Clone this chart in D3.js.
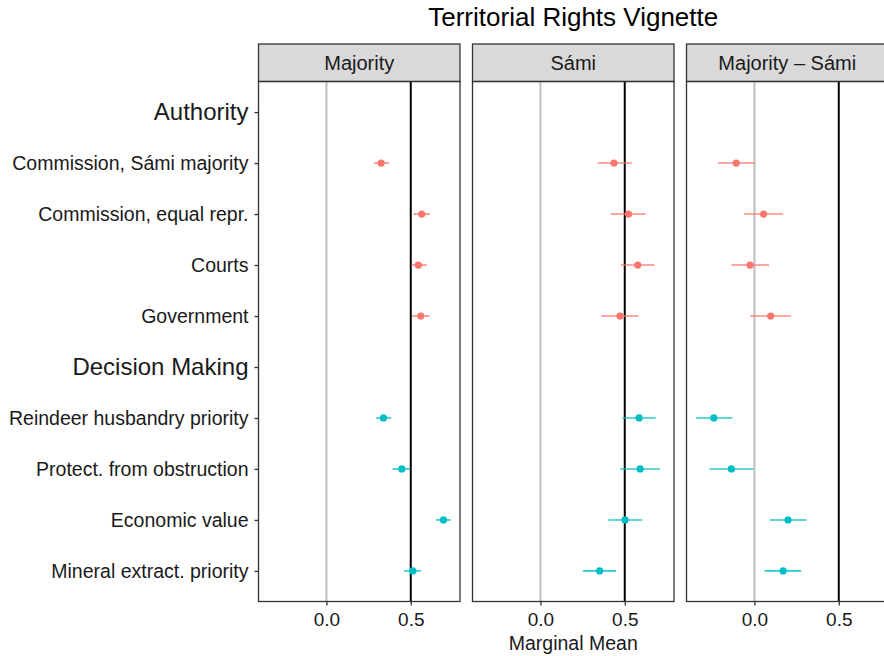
<!DOCTYPE html>
<html>
<head>
<meta charset="utf-8">
<script src="https://cdn.jsdelivr.net/npm/d3@7"></script>
<style>
  body { margin: 0; background: #fff; }
  svg { font-family: "Liberation Sans", Arial, Helvetica, sans-serif; }
</style>
</head>
<body>
<svg id="chart" width="884" height="656"></svg>
<script>
// rows from top to bottom; headers are the attribute names
const rows = [
  "Authority",
  "Commission, Sámi majority",
  "Commission, equal repr.",
  "Courts",
  "Government",
  "Decision Making",
  "Reindeer husbandry priority",
  "Protect. from obstruction",
  "Economic value",
  "Mineral extract. priority"
];
const headers = ["Authority", "Decision Making"];
const levels = rows.filter(r => !headers.includes(r));
const levelGroup = ["Authority", "Authority", "Authority", "Authority",
  "Decision Making", "Decision Making", "Decision Making", "Decision Making"];

const panels = ["Majority", "Sámi", "Majority – Sámi"];
const refLines = [0.5, 0.5, 0.5];
const xTicks = [0, 0.5];

// estimates and 95% intervals, in the order of levels
const majorityEst = [0.324, 0.565, 0.545, 0.559, 0.338, 0.447, 0.694, 0.512];
const majorityLo  = [0.281, 0.516, 0.504, 0.508, 0.295, 0.391, 0.650, 0.461];
const majorityHi  = [0.372, 0.613, 0.595, 0.611, 0.384, 0.496, 0.737, 0.561];

const samiEst = [0.436, 0.522, 0.577, 0.472, 0.585, 0.591, 0.502, 0.351];
const samiLo  = [0.339, 0.417, 0.478, 0.361, 0.486, 0.474, 0.403, 0.252];
const samiHi  = [0.540, 0.623, 0.677, 0.581, 0.683, 0.708, 0.603, 0.448];

const diffEst = [-0.108, 0.054, -0.026, 0.096, -0.241, -0.137, 0.199, 0.170];
const diffLo  = [-0.217, -0.062, -0.137, -0.026, -0.346, -0.266, 0.092, 0.060];
const diffHi  = [0.002, 0.170, 0.086, 0.217, -0.131, -0.006, 0.309, 0.277];

const panelEst = [majorityEst, samiEst, diffEst];
const panelLo = [majorityLo, samiLo, diffLo];
const panelHi = [majorityHi, samiHi, diffHi];

const colors = d3.scaleOrdinal().domain(headers).range(["#F8766D", "#00BFC4"]);

const svg = d3.select("#chart");
const panelLeft = 258.5, panelW = 201.5, panelGap = 12.5;
const stripTop = 44, stripH = 37.5;
const plotTop = stripTop + stripH, plotBottom = 601.5;
const font = "'Liberation Sans', Arial, sans-serif";

const x = d3.scaleLinear().domain([-0.403, 0.792]).range([0, panelW]);
const y = d3.scalePoint().domain(rows).range([plotTop, plotBottom]).padding(0.6);

// title
svg.append("text")
  .attr("x", panelLeft + (3 * panelW + 2 * panelGap) / 2)
  .attr("y", 26)
  .attr("text-anchor", "middle")
  .style("font-size", "26px")
  .text("Territorial Rights Vignette");

panels.forEach(function(name, p) {
  const g = svg.append("g")
    .attr("transform", `translate(${panelLeft + p * (panelW + panelGap)},0)`);

  // strip
  g.append("rect")
    .attr("x", 0).attr("y", stripTop)
    .attr("width", panelW).attr("height", stripH)
    .attr("fill", "#D9D9D9")
    .attr("stroke", "#333").attr("stroke-width", 1.3);
  g.append("text")
    .attr("x", panelW / 2).attr("y", stripTop + stripH / 2 + 7)
    .attr("text-anchor", "middle")
    .style("font-size", "20px")
    .attr("fill", "#1a1a1a")
    .text(name);

  // reference lines
  g.append("line")
    .attr("x1", x(0)).attr("x2", x(0))
    .attr("y1", plotTop).attr("y2", plotBottom)
    .attr("stroke", "#BEBEBE").attr("stroke-width", 2);
  g.append("line")
    .attr("x1", x(refLines[p])).attr("x2", x(refLines[p]))
    .attr("y1", plotTop).attr("y2", plotBottom)
    .attr("stroke", "#000").attr("stroke-width", 2);

  const data = levels.map((lv, i) => ({
    level: lv, group: levelGroup[i],
    est: panelEst[p][i], lo: panelLo[p][i], hi: panelHi[p][i]
  }));

  g.selectAll("line.ci")
    .data(data)
    .enter()
    .append("line")
    .attr("class", "ci")
    .attr("x1", d => x(d.lo)).attr("x2", d => x(d.hi))
    .attr("y1", d => y(d.level)).attr("y2", d => y(d.level))
    .attr("stroke", d => colors(d.group))
    .attr("stroke-opacity", 0.85)
    .attr("stroke-width", 1.6);

  g.selectAll("circle")
    .data(data)
    .enter()
    .append("circle")
    .attr("cx", d => x(d.est)).attr("cy", d => y(d.level))
    .attr("r", 3.6)
    .attr("fill", d => colors(d.group));

  // panel border
  g.append("rect")
    .attr("x", 0).attr("y", plotTop)
    .attr("width", panelW).attr("height", plotBottom - plotTop)
    .attr("fill", "none")
    .attr("stroke", "#333").attr("stroke-width", 1.3);

  // x axis
  const xAxis = g.append("g")
    .attr("transform", `translate(0,${plotBottom})`)
    .call(d3.axisBottom(x).tickValues(xTicks).tickFormat(d3.format(".1f")).tickSize(4).tickPadding(7));
  xAxis.select(".domain").remove();
  xAxis.selectAll(".tick line").attr("stroke", "#333").attr("stroke-width", 1.3);
  xAxis.selectAll("text").style("font-size", "19px").attr("fill", "#1a1a1a")
    .style("font-family", font);
});

// y axis on the first panel
const yAxis = svg.append("g")
  .attr("transform", `translate(${panelLeft},0)`)
  .call(d3.axisLeft(y).tickSize(4).tickPadding(6));
yAxis.select(".domain").remove();
yAxis.selectAll(".tick line").attr("stroke", "#333").attr("stroke-width", 1.3);
yAxis.selectAll("text")
  .style("font-family", font)
  .attr("fill", "#1a1a1a")
  .style("font-size", d => headers.includes(d) ? "24px" : "19.5px");

// x axis title
svg.append("text")
  .attr("x", panelLeft + panelW + panelGap + panelW / 2)
  .attr("y", 650)
  .attr("text-anchor", "middle")
  .style("font-size", "19.5px")
  .attr("fill", "#1a1a1a")
  .text("Marginal Mean");
</script>
</body>
</html>
